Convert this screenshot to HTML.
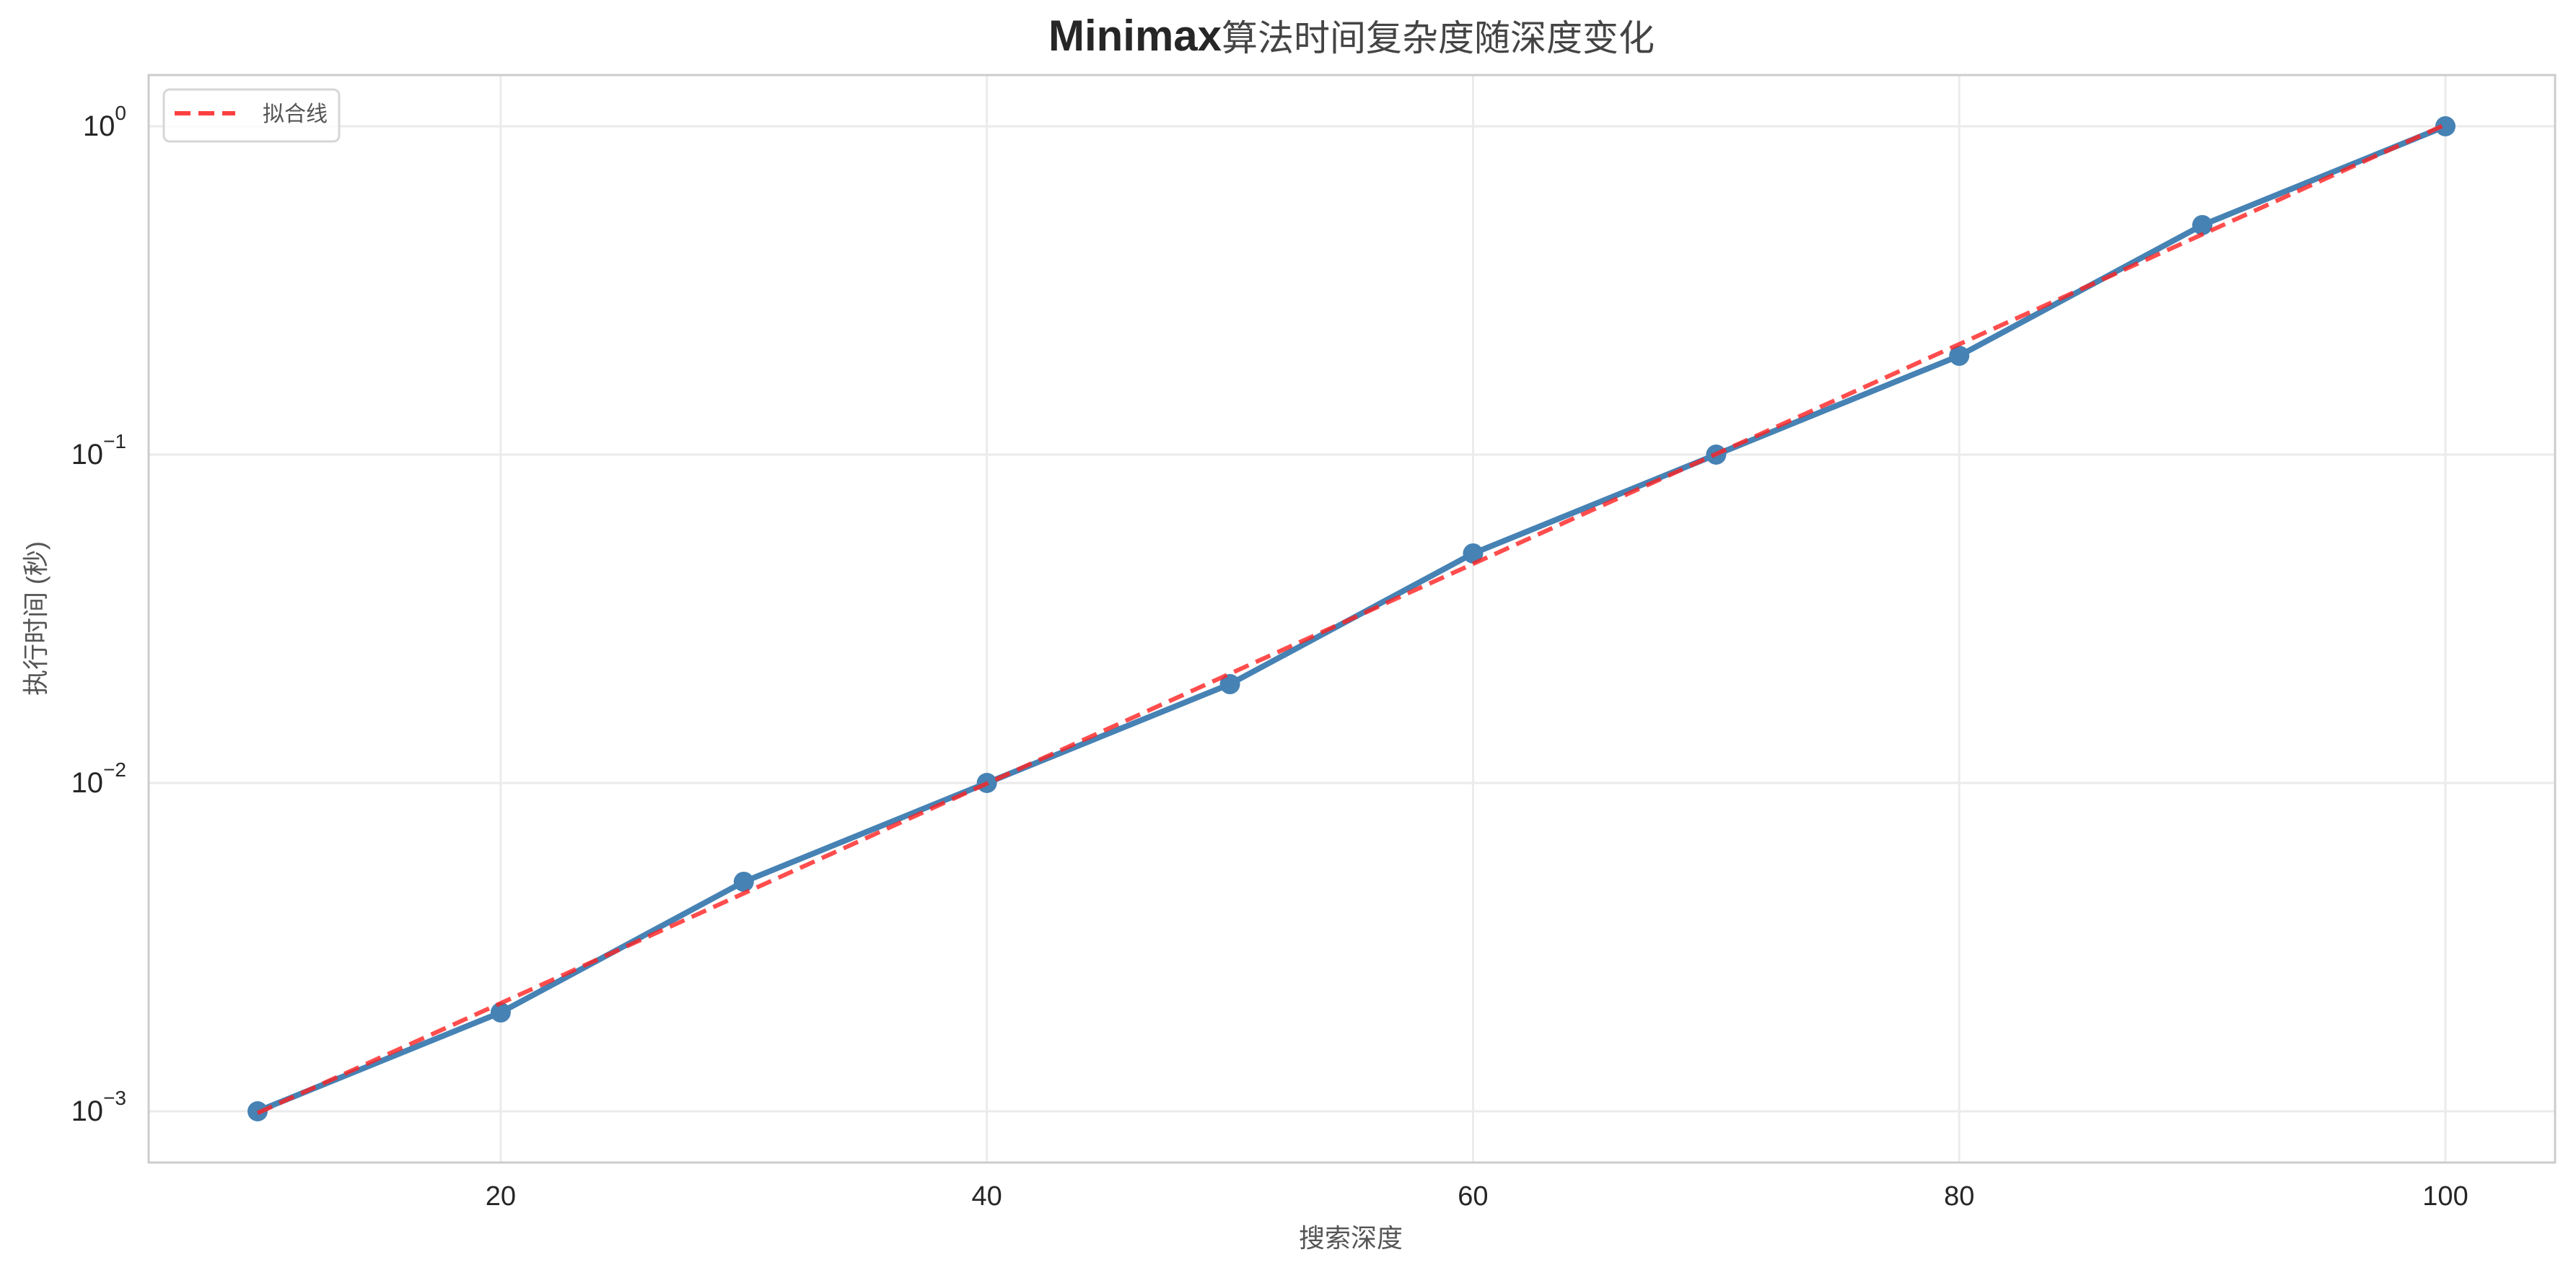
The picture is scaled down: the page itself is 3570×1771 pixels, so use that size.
<!DOCTYPE html>
<html><head><meta charset="utf-8"><style>
html,body{margin:0;padding:0;background:#fff;}
svg{display:block;font-family:"Liberation Sans","Noto Sans CJK SC",sans-serif;}
</style></head><body>
<svg id="chart" width="3570" height="1771" viewBox="0 0 3570 1771" xmlns="http://www.w3.org/2000/svg">
<rect width="3570" height="1771" fill="#fff"/>
<g id="grid"></g>
<g id="series"></g>
<rect x="206" y="104" width="3335" height="1507" fill="none" stroke="#cccccc" stroke-width="3"/>
<g id="ticks"></g>
<text x="1873" y="70" text-anchor="middle" fill="#262626"><tspan font-size="60" font-weight="bold">Minimax</tspan><tspan font-size="50" fill="#444">算法时间复杂度随深度变化</tspan></text>
<text x="1872" y="1728" text-anchor="middle" font-size="36" fill="#555">搜索深度</text>
<text transform="translate(62,857) rotate(-90)" text-anchor="middle" font-size="36" fill="#555">执行时间 (秒)</text>
<g>
<rect x="227" y="124" width="243" height="72" rx="8" fill="#fff" fill-opacity="0.8" stroke="#d6d6d6" stroke-width="3"/>
<line x1="242" y1="157" x2="326" y2="157" stroke="#ff4040" stroke-width="6" stroke-dasharray="22,11"/>
<text x="364" y="168" font-size="30" fill="#555">拟合线</text>
</g>
</svg>
<script>
const depths = [10, 20, 30, 40, 50, 60, 70, 80, 90, 100];
const times = [0.001, 0.002, 0.005, 0.01, 0.02, 0.05, 0.1, 0.2, 0.5, 1];
const xTicks = [20, 40, 60, 80, 100];
const yTickExps = [-3, -2, -1, 0];

const NS = "http://www.w3.org/2000/svg";
const X0 = 357, X1 = 3389, XV0 = 10, XV1 = 100;
const Y0 = 1540, DEC = 455;
function xs(v){ return X0 + (v - XV0) * (X1 - X0) / (XV1 - XV0); }
function ys(v){ return Y0 - (Math.log10(v) + 3) * DEC; }
function mk(tag, attrs, parent){ const e = document.createElementNS(NS, tag); for (const k in attrs) e.setAttribute(k, attrs[k]); parent.appendChild(e); return e; }

const grid = document.getElementById('grid');
const ticks = document.getElementById('ticks');
const series = document.getElementById('series');

xTicks.forEach(t => {
  const l = mk('line', {x1: xs(t), x2: xs(t), y1: 104, y2: 1611, stroke: '#ebebeb', 'stroke-width': 3}, grid);
  
  
  const tx = mk('text', {x: xs(t), y: 1670, 'text-anchor': 'middle', 'font-size': 38, fill: '#262626'}, ticks);
  tx.textContent = t;
  
  
});
yTickExps.forEach(e => {
  const v = Math.pow(10, e);
  const l = mk('line', {x1: 206, x2: 3541, y1: ys(v), y2: ys(v), stroke: '#ebebeb', 'stroke-width': 3}, grid);
  
  
  const tx = mk('text', {x: 175, y: ys(v) + 13, 'text-anchor': 'end', 'font-size': 40, fill: '#262626'}, ticks);
  
  
  const a = mk('tspan', {}, tx); a.textContent = '10';
  const b = mk('tspan', {dy: -22, 'font-size': 28}, tx); b.textContent = (e < 0 ? '\u2212' : '') + Math.abs(e);
});

const pts = depths.map((d, i) => xs(d) + ',' + ys(times[i])).join(' ');
const line = mk('polyline', {points: pts, fill: 'none', stroke: '#4682b4', 'stroke-width': 8, 'stroke-linejoin': 'round'}, series);


depths.forEach((d, i) => {
  const c = mk('circle', {cx: xs(d), cy: ys(times[i]), r: 14, fill: '#4682b4'}, series);
  
  
});
const lx = depths, ly = times.map(t => Math.log10(t));
const mx = lx.reduce((a, b) => a + b, 0) / lx.length, my = ly.reduce((a, b) => a + b, 0) / ly.length;
let sxy = 0, sxx = 0;
lx.forEach((x, i) => { sxy += (x - mx) * (ly[i] - my); sxx += (x - mx) * (x - mx); });
const slope = sxy / sxx, icpt = my - slope * mx;
const fpts = depths.map(d => xs(d) + ',' + ys(Math.pow(10, icpt + slope * d))).join(' ');
const fit = mk('polyline', {points: fpts, fill: 'none', stroke: '#ff2020', 'stroke-opacity': 0.8, 'stroke-width': 6, 'stroke-dasharray': '22,11'}, series);


</script>
</body></html>
